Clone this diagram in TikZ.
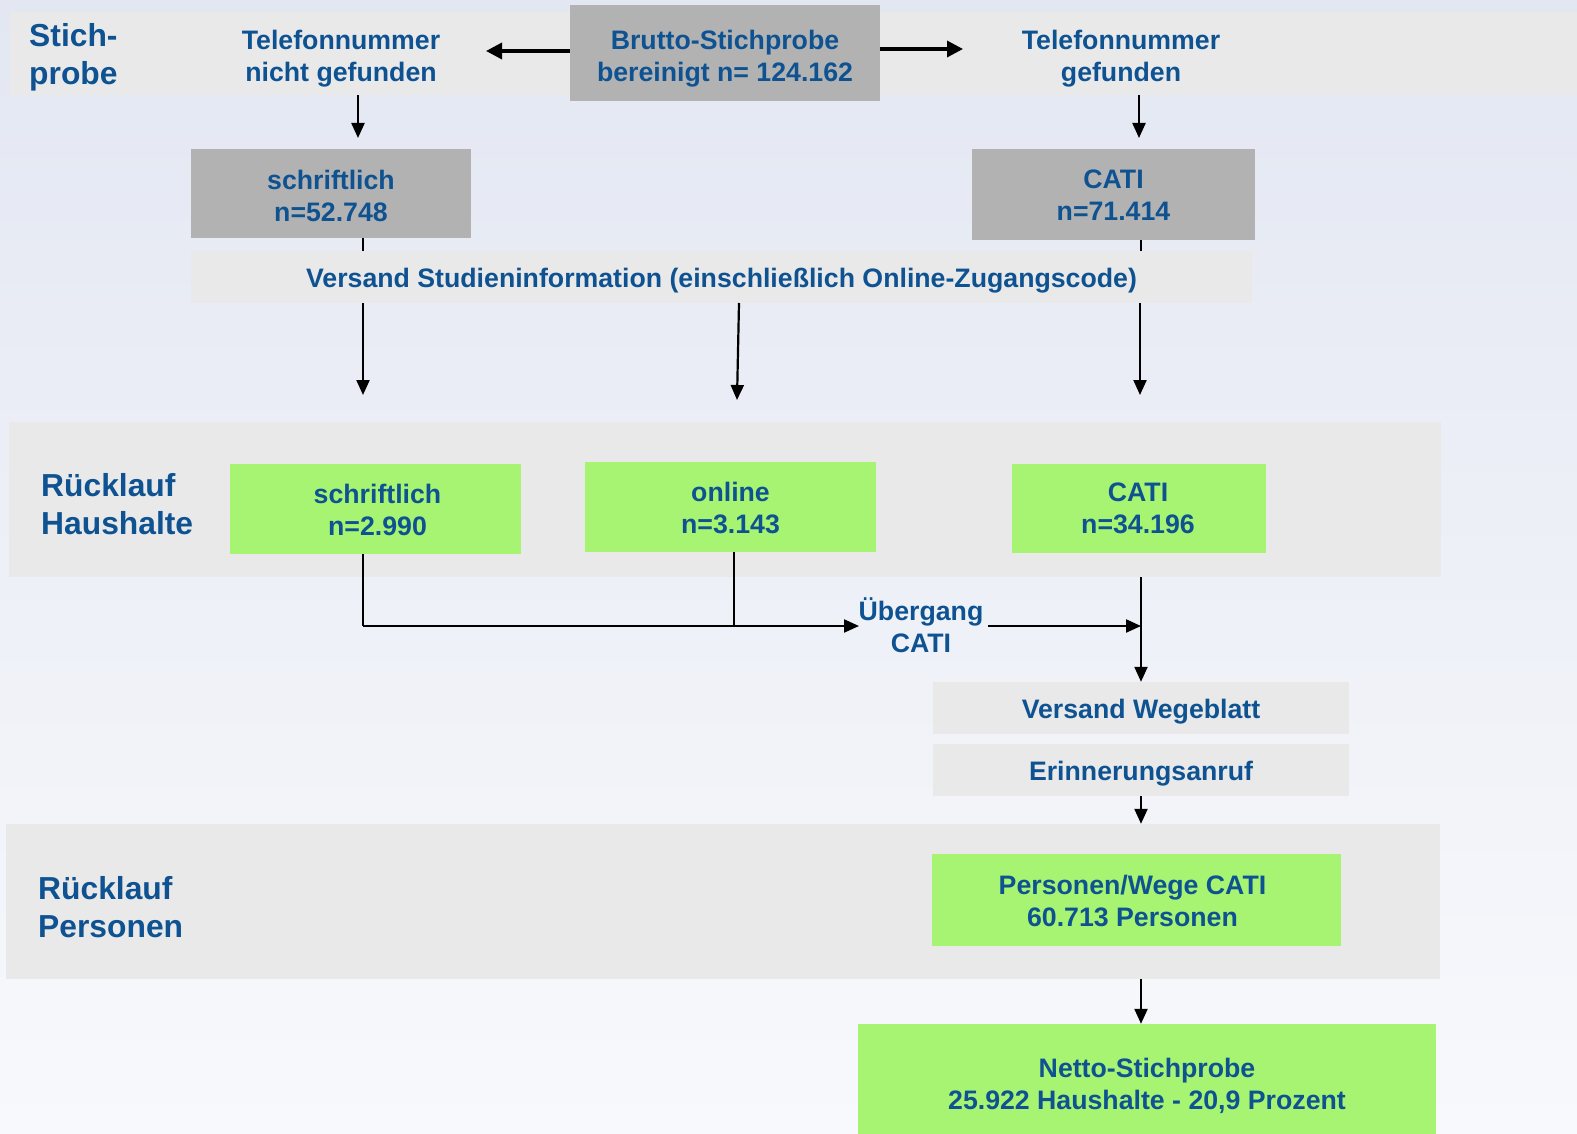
\documentclass[tikz,border=0pt]{standalone}
\usepackage{fontspec}
\setmainfont{Liberation Sans}
\usetikzlibrary{arrows.meta}
\definecolor{txtblue}{RGB}{14,82,146}
\definecolor{bandgray}{RGB}{233,233,233}
\definecolor{boxgray}{RGB}{178,178,178}
\definecolor{boxgreen}{RGB}{166,244,114}
\definecolor{bgtop}{RGB}{227,231,242}
\definecolor{bgbot}{RGB}{248,249,252}
\begin{document}
\begin{tikzpicture}[x=1pt,y=-1pt,
  txt/.style={text=txtblue,font=\fontsize{26.7}{32}\selectfont\bfseries,align=center,inner sep=0},
  lbl/.style={text=txtblue,font=\fontsize{31.8}{38}\selectfont\bfseries,align=left,inner sep=0,anchor=west},
  band/.style={fill=bandgray,inner sep=0,draw=none},
  graybox/.style={fill=boxgray,inner sep=0},
  greenbox/.style={fill=boxgreen,inner sep=0},
  lightbox/.style={fill=bandgray,inner sep=0},
  arr/.style={line width=2.2pt,-{Triangle[length=15pt,width=13pt]}},
  bigarr/.style={line width=3.4pt,-{Triangle[length=16pt,width=16pt]}},
  ln/.style={line width=2.2pt}]
\useasboundingbox (0,0) rectangle (1577,1134);
\shade[top color=bgtop,bottom color=bgbot] (0,0) rectangle (1577,1134);
% bands
\node[band,minimum width=1567pt,minimum height=83pt] (band1) at (793.5,53.5) {};
\node[band,minimum width=1432pt,minimum height=155pt] (band2) at (725,499.5) {};
\node[band,minimum width=1434pt,minimum height=155pt] (band3) at (723,901.5) {};
% labels
\node[lbl] (lstich) at (29,57) {Stich-\\probe};
\node[lbl] (lhaus) at (41,504) {Rücklauf\\Haushalte};
\node[lbl] (lpers) at (38,907) {Rücklauf\\Personen};
% top row
\node[txt] (telnf) at (341,59) {Telefonnummer\\nicht gefunden};
\node[graybox,minimum width=310pt,minimum height=96pt] (brutto) at (725,53) {};
\node[txt] (bruttot) at ([yshift=-6pt]brutto.center) {Brutto-Stichprobe\\bereinigt n= 124.162};
\node[txt] (telg) at (1121,59) {Telefonnummer\\gefunden};
% second row
\node[graybox,minimum width=280pt,minimum height=89pt] (schr) at (331,193.5) {};
\node[txt] (schrt) at ([yshift=-2pt]schr.center) {schriftlich\\n=52.748};
\node[graybox,minimum width=283pt,minimum height=91pt] (cati) at (1113.5,194.5) {};
\node[txt] (catit) at ([yshift=-1pt]cati.center) {CATI\\n=71.414};
\node[lightbox,minimum width=1061pt,minimum height=52pt] (versand) at (721.5,277) {};
\node[txt] (versandt) at ([yshift=-4pt]versand.center) {Versand Studieninformation (einschließlich Online-Zugangscode)};
% Rücklauf Haushalte
\node[greenbox,minimum width=291pt,minimum height=90pt] (g1) at (375.5,509) {};
\node[txt] (g1t) at ([yshift=-1pt,xshift=2pt]g1.center) {schriftlich\\n=2.990};
\node[greenbox,minimum width=291pt,minimum height=90pt] (g2) at (730.5,507) {};
\node[txt] (g2t) at ([yshift=-1pt]g2.center) {online\\n=3.143};
\node[greenbox,minimum width=254pt,minimum height=89pt] (g3) at (1139,508.5) {};
\node[txt] (g3t) at ([xshift=-1pt]g3.center) {CATI\\n=34.196};
\node[txt] (ueb) at (921,625) {Übergang\\CATI};
\node[lightbox,minimum width=416pt,minimum height=52pt] (wege) at (1141,708) {};
\node[txt] (weget) at ([yshift=-4pt]wege.center) {Versand Wegeblatt};
\node[lightbox,minimum width=416pt,minimum height=52pt] (erin) at (1141,770) {};
\node[txt] (erint) at ([yshift=-4pt]erin.center) {Erinnerungsanruf};
% Rücklauf Personen
\node[greenbox,minimum width=409pt,minimum height=92pt] (pers) at (1136.5,900) {};
\node[txt] (perst) at ([yshift=-1pt,xshift=-4pt]pers.center) {Personen/Wege CATI\\60.713 Personen};
\node[greenbox,minimum width=578pt,minimum height=120pt] (netto) at (1147,1084) {};
\node[txt] (nettot) at (1147,1086) {Netto-Stichprobe\\25.922 Haushalte - 20,9 Prozent};
% coordinates
\coordinate (lt) at (486,51);
\coordinate (rt) at (963,49);
\coordinate (a1) at (358,138);
\coordinate (a2) at (1139,138);
\coordinate (d1) at (363,395);
\coordinate (d2) at (737,400);
\coordinate (d2s) at (739,303);
\coordinate (d3) at (1140,395);
\coordinate (j1) at (363,626);
\coordinate (j2) at (734,626);
\coordinate (uin) at (859,626);
\coordinate (uout) at (988,626);
\coordinate (mrg) at (1141,626);
% connectors
\draw[bigarr] (brutto.west |- lt) -- (lt);
\draw[bigarr] (brutto.east |- rt) -- (rt);
\draw[arr] (band1.south -| a1) -- (a1);
\draw[arr] (band1.south -| a2) -- (a2);
\draw[ln] (schr.south -| d1) -- (versand.north -| d1);
\draw[ln] (cati.south -| mrg) -- (versand.north -| mrg);
\draw[arr] (versand.south -| d1) -- (d1);
\draw[arr] (d2s) -- (d2);
\draw[arr] (versand.south -| d3) -- (d3);
\draw[ln] (g1.south -| j1) -- (j1);
\draw[ln] (g2.south -| j2) -- (j2);
\draw[arr] (j1) -- (uin);
\draw[arr] (uout) -- (mrg);
\draw[arr] (band2.south -| mrg) -- (wege.north -| mrg);
\draw[arr] (erin.south) -- (band3.north -| erin.south);
\draw[arr] (band3.south -| mrg) -- (netto.north -| mrg);
\end{tikzpicture}
\end{document}
